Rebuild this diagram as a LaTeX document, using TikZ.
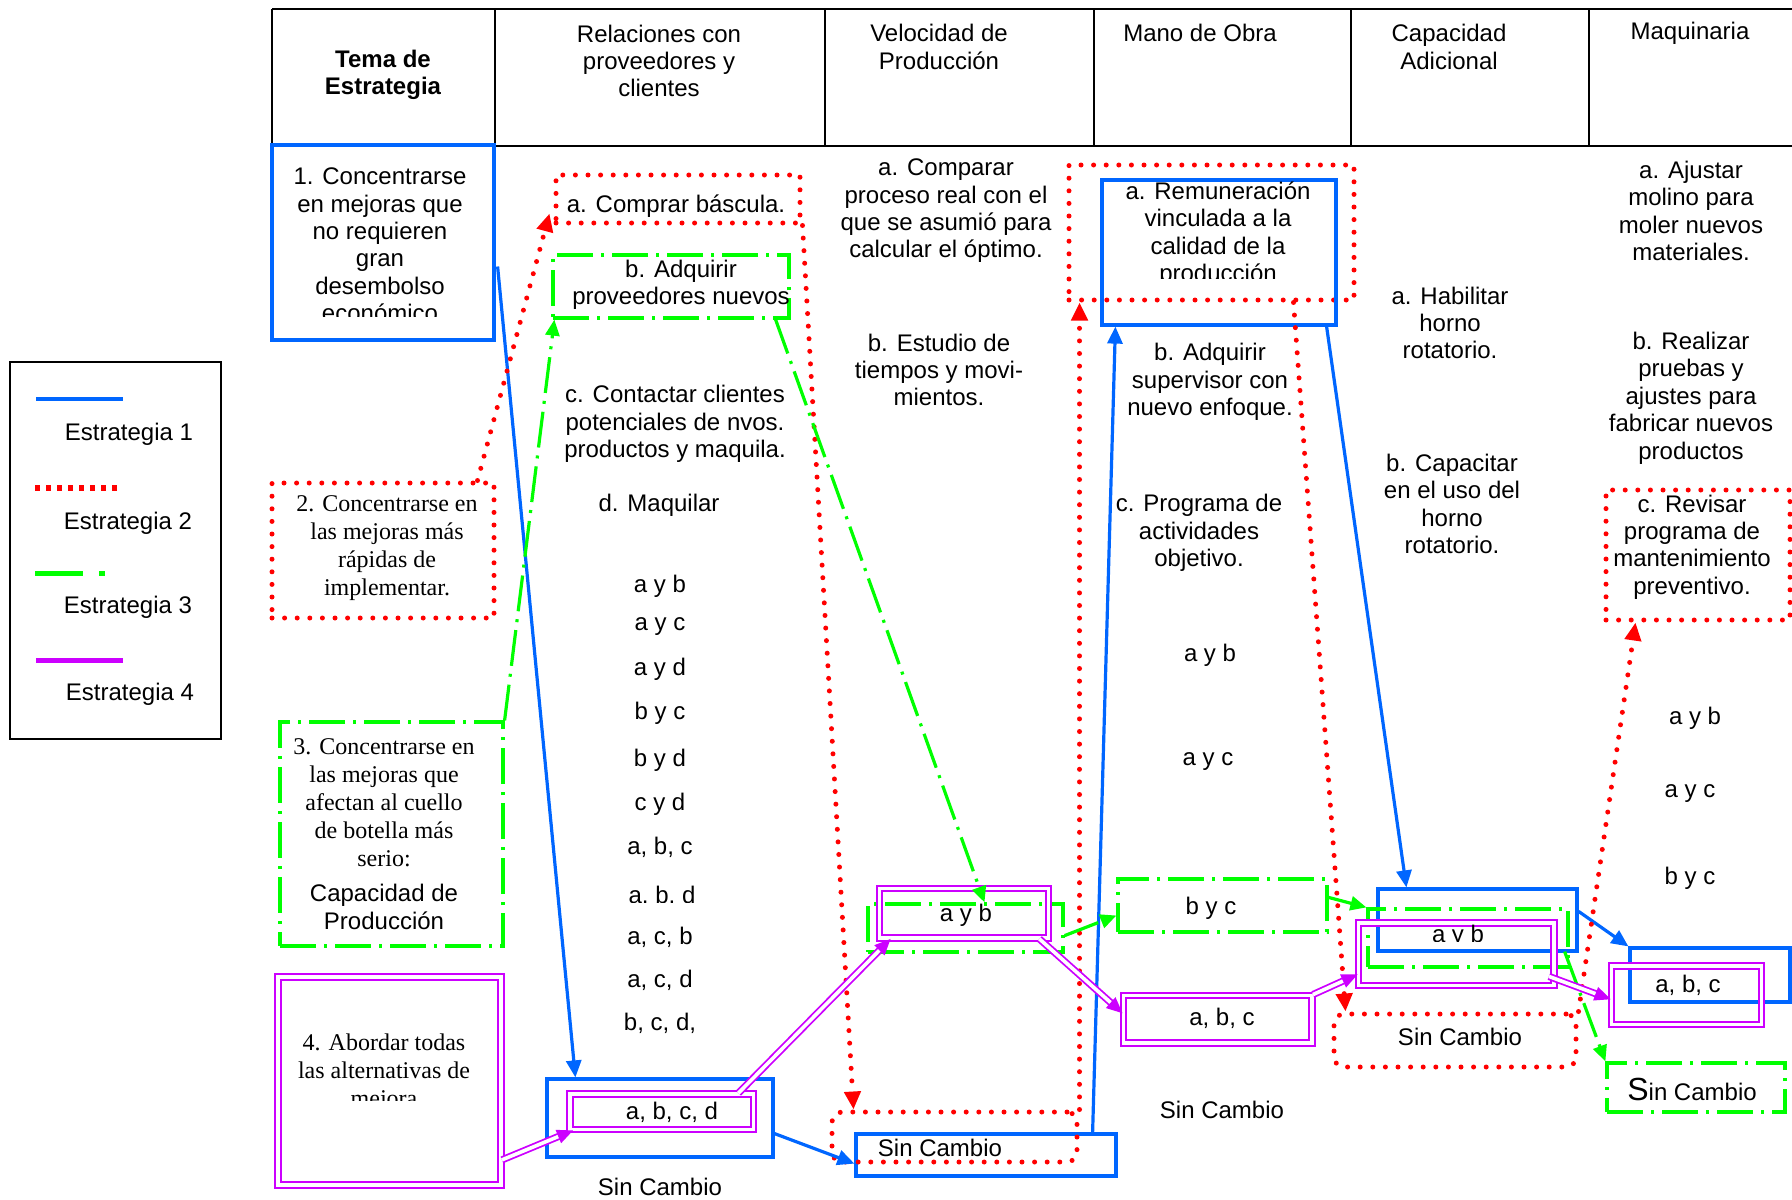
\documentclass[tikz,border=0pt]{standalone}
\usepackage{fontspec}
\setmainfont{Liberation Sans}
\newfontfamily\timesfont{Liberation Serif}
\usetikzlibrary{arrows.meta, fit, calc}
\definecolor{estblue}{RGB}{0,102,255}
\definecolor{estred}{RGB}{255,0,0}
\definecolor{estgreen}{RGB}{0,255,0}
\definecolor{estviolet}{RGB}{204,0,255}
\tikzset{
  txt/.style={inner sep=0pt,align=center,font=\fontsize{12}{13.7}\selectfont},
  stxt/.style={inner sep=0pt,align=center,font=\timesfont\fontsize{12}{14}\selectfont},
  htxt/.style={txt,font=\fontsize{12}{13.7}\selectfont\bfseries},
  tabline/.style={line width=1.1pt,black},
  e1line/.style={draw=estblue,line width=1.6pt},
  e2line/.style={draw=estred,line width=2.5pt,line cap=round,dash pattern=on 0pt off 6.3pt},
  e3line/.style={draw=estgreen,line width=1.6pt,dash pattern=on 18pt off 4pt on 1.5pt off 4pt},
  e4line/.style={draw=estviolet,line width=0.9pt,double=white,double distance=1.8pt},
  e1box/.style={e1line,rectangle,inner sep=0pt},
  e2box/.style={e2line,rectangle,inner sep=0pt},
  e3box/.style={e3line,rectangle,inner sep=0pt},
  e4box/.style={e4line,rectangle,inner sep=0pt},
  e1arr/.style={e1line,-{Triangle[length=8.5pt,width=7.5pt]}},
  e2arr/.style={e2line,-{Triangle[length=9pt,width=8pt]}},
  e3arr/.style={e3line,-{Triangle[length=8pt,width=7pt]}},
  e4arr/.style={e4line,-{Triangle[length=8pt,width=7pt]}}
}
\begin{document}
\begin{tikzpicture}[x=0.5pt,y=-0.5pt]
  \useasboundingbox (0,0) rectangle (1792,1199);

  % cabecera
  \draw[tabline] (272,9) -- (1792,9) (272,146) -- (1792,146);
  \foreach \xc in {272,495,825,1094,1351,1589}
    \draw[tabline] (\xc,9) -- (\xc,146);
  \node[htxt] (h1) at (383,75) {Tema de\\Estrategia};
  \node[txt] (h2) at (659,61) {Relaciones con\\proveedores y\\clientes};
  \node[txt] (h3) at (939,47) {Velocidad de\\Producción};
  \node[txt] (h4) at (1200,33) {Mano de Obra};
  \node[txt] (h5) at (1449,47) {Capacidad\\Adicional};
  \node[txt] (h6) at (1690,33) {Maquinaria};

  % leyenda
  \node[draw,line width=1pt,inner sep=0pt,fit={(10,362) (221,739)}] (ley) {};
  \draw[estblue,line width=1.7pt] (36,399) -- (123,399);
  \draw[estred,line width=2.7pt,dash pattern=on 2.7pt off 2.8pt] (35,488) -- (122,488);
  \draw[estgreen,line width=2.5pt,dash pattern=on 24pt off 8pt on 3pt off 8pt] (35,573) -- (107,573);
  \draw[estviolet,line width=2.5pt] (36,660) -- (123,660);
  \node[txt] (l1) at (129,434) {Estrategia 1};
  \node[txt] (l2) at (128,523) {Estrategia 2};
  \node[txt] (l3) at (128,607) {Estrategia 3};
  \node[txt] (l4) at (130,694) {Estrategia 4};

  % temas de estrategia
  \node[e1box,fit={(272,145) (494,340)}] (s1) {};
  \begin{scope}
    \clip (272,145) rectangle (494,316);
    \node[txt] (t1) at (380,245) {1. Concentrarse\\en mejoras que\\no requieren\\gran\\desembolso\\económico};
  \end{scope}
  \node[e2box,fit={(272,483) (494,618)}] (s2) {};
  \node[stxt] (t2) at (387,548) {2. Concentrarse en\\las mejoras más\\rápidas de\\implementar.};
  \node[e3box,fit={(280,722) (503,946)}] (s3) {};
  \node[stxt] (t3) at (384,803) {3. Concentrarse en\\las mejoras que\\afectan al cuello\\de botella más\\serio:};
  \node[txt] (t3b) at (384,907) {Capacidad de\\Producción};
  \node[e4box,fit={(278,977) (501,1185)}] (s4) {};
  \begin{scope}
    \clip (278,977) rectangle (501,1100);
    \node[stxt] (t4) at (384,1073) {4. Abordar todas\\las alternativas de\\mejora};
  \end{scope}

  % relaciones con proveedores y clientes
  \node[e2box,fit={(556,175) (800,223)}] (ra) {};
  \node[txt] (ta) at (676,206) {a. Comprar báscula.};
  \node[e3box,fit={(553,255) (789,318)}] (rb) {};
  \node[txt] (tb) at (681,285) {b. Adquirir\\proveedores nuevos};
  \node[txt] (rc) at (675,424) {c. Contactar clientes\\potenciales de nvos.\\productos y maquila.};
  \node[txt] (rd) at (659,505) {d. Maquilar};
  \foreach \yc/\lbl in {586/a y b, 627/a y c, 669/a y d, 713/b y c, 760/b y d, 804/c y d,
                        847/{a, b, c}, 937/{a, c, b}, 980/{a, c, d}, 1023/{b, c, d,}}
    \node[txt] (r\yc) at (660,\yc) {\lbl};
  \begin{scope}
    \clip (600,870) rectangle (720,902);
    \node[txt,anchor=base] (r894) at (662,903) {a, b, d};
  \end{scope}
  \node[e1box,fit={(547,1079) (773,1157)}] (rsc) {};
  \node[e4box,fit={(570,1094) (753.5,1129.5)}] (rp) {};
  \node[txt] (tp) at (672,1112) {a, b, c, d};
  \node[txt] (rsin) at (660,1187) {Sin Cambio};

  % velocidad de produccion
  \node[txt] (va) at (946,211) {a. Comparar\\proceso real con el\\que se asumió para\\calcular el óptimo.};
  \node[txt] (vb) at (939,370) {b. Estudio de\\tiempos y movi-\\mientos.};
  \node[e3box,fit={(868,904) (1063,952)}] (vabg) {};
  \node[e4box,fit={(879.5,888.5) (1048.5,938)}] (vab) {};
  \node[txt] (tvab) at (966,915) {a y b};
  \node[e1box,fit={(856,1134) (1116,1176)}] (vscb) {};
  \node[e2box,rounded corners=5pt,fit={(832,1112) (1077,1162)}] (vscr) {};
  \node[txt] (tvsc) at (940,1148) {Sin Cambio};

  % mano de obra
  \node[e2box,fit={(1069,165) (1354,300)}] (mar) {};
  \node[e1box,fit={(1102,180) (1336,325)}] (mab) {};
  \begin{scope}
    \clip (1102,180) rectangle (1336,278);
    \node[txt] (tma) at (1218,234) {a. Remuneración\\vinculada a la\\calidad de la\\producción};
  \end{scope}
  \node[txt] (mb) at (1210,382) {b. Adquirir\\supervisor con\\nuevo enfoque.};
  \node[txt] (mc) at (1199,533) {c. Programa de\\actividades\\objetivo.};
  \node[txt] (m655) at (1210,655) {a y b};
  \node[txt] (m762) at (1208,762) {a y c};
  \node[e3box,fit={(1118,879) (1327,932)}] (mbc) {};
  \node[txt] (tmbc) at (1211,908) {b y c};
  \node[e4box,fit={(1123.5,995.5) (1312,1043)}] (mabc) {};
  \node[txt] (tmabc) at (1222,1018) {a, b, c};
  \node[txt] (msin) at (1222,1110) {Sin Cambio};

  % capacidad adicional
  \node[txt] (ca) at (1450,323) {a. Habilitar\\horno\\rotatorio.};
  \node[txt] (cb) at (1452,504) {b. Capacitar\\en el uso del\\horno\\rotatorio.};
  \node[e1box,fit={(1378,889) (1577,951)}] (cab) {};
  \node[e3box,fit={(1368,909) (1568,967)}] (cabg) {};
  \node[e4box,fit={(1358.5,923) (1554,985.5)}] (cabp) {};
  \begin{scope}
    \clip (1380,900) rectangle (1540,941);
    \node[txt,anchor=base] (tcab) at (1458,942) {a y b};
  \end{scope}
  \node[e2box,rounded corners=5pt,fit={(1334,1014) (1576,1067)}] (cscr) {};
  \node[txt] (tcsc) at (1460,1037) {Sin Cambio};

  % maquinaria
  \node[txt] (qa) at (1691,211) {a. Ajustar\\molino para\\moler nuevos\\materiales.};
  \node[txt] (qb) at (1691,398) {b. Realizar\\pruebas y\\ajustes para\\fabricar nuevos\\productos};
  \node[e2box,fit={(1606,490) (1790,620)}] (qc) {};
  \node[txt] (tqc) at (1692,547) {c. Revisar\\programa de\\mantenimiento\\preventivo.};
  \node[txt] (q718) at (1695,718) {a y b};
  \node[txt] (q794) at (1690,794) {a y c};
  \node[txt] (q878) at (1690,878) {b y c};
  \node[e1box,fit={(1630,948) (1790,1002)}] (qabcb) {};
  \node[e4box,fit={(1611.5,966) (1761.5,1024.5)}] (qabcp) {};
  \node[txt] (tqabc) at (1688,985) {a, b, c};
  \node[e3box,fit={(1607,1063) (1785,1112)}] (qsc) {};
  \node[txt,anchor=base] (tqsc) at (1692,1100) {{\fontsize{16}{16}\selectfont S}in Cambio};

  % estrategia 1
  \draw[e1arr] ($(s1.east)+(2,24)$) -- ($(rsc.north west)+(30,0)$);
  \draw[e1arr] ($(rsc.south east)+(0,-25)$) -- ($(vscb.south west)+(0,-14)$);
  \draw[e1arr] ($(vscb.north east)+(-25,0)$) -- ($(mab.south west)+(15,0)$);
  \draw[e1arr] ($(mab.south east)+(-11,0)$) -- ($(cab.north west)+(30,0)$);
  \draw[e1arr] ($(cab.north east)+(0,24)$) -- (qabcb.north west);

  % estrategia 2
  \draw[e2arr] ($(s2.north east)+(-19,0)$) -- ($(ra.south west)+(-4,-12)$);
  \draw[e2arr] (ra.south east) -- ($(vscr.north west)+(24,0)$);
  \draw[e2arr] (vscr.north east) -- ($(mar.south west)+(13,0)$);
  \draw[e2arr] ($(mar.south east)+(-63,0)$) -- ($(cscr.north west)+(14,0)$);
  \draw[e2arr] (cscr.north east) -- ($(qc.south west)+(32,0)$);

  % estrategia 3
  \draw[e3arr] (s3.north east) -- ($(rb.south west)+(3,0)$);
  \draw[e3arr] ($(rb.south east)+(-15,0)$) -- ($(vabg.north)+(19,0)$);
  \draw[e3arr] ($(vabg.south east)+(0,-18)$) -- ($(mbc.west)+(0,10)$);
  \draw[e3arr] ($(mbc.north east)+(0,20)$) -- (cabg.north west);
  \draw[e3arr] ($(cabg.south east)+(-5,-17)$) -- (qsc.north west);

  % estrategia 4
  \draw[e4arr] ($(s4.south east)+(0,-26)$) -- ($(rp.south west)+(4,0)$);
  \draw[e4arr] ($(rp.north east)+(-16,0)$) -- ($(vab.south west)+(12,0)$);
  \draw[e4arr] ($(vab.south east)+(-10,0)$) -- ($(mabc.west)+(0,-6)$);
  \draw[e4arr] (mabc.north east) -- ($(cabp.south west)+(0,-12)$);
  \draw[e4arr] ($(cabp.south east)+(-6,-10)$) -- ($(qabcp.west)+(0,4)$);
\end{tikzpicture}
\end{document}
